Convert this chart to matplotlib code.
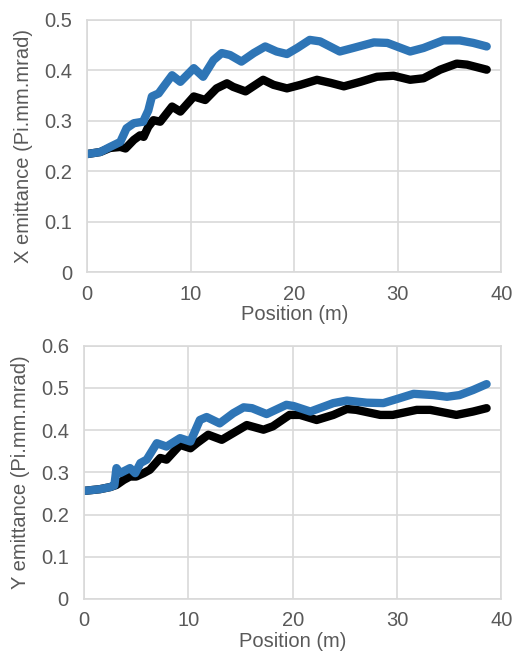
import matplotlib.pyplot as plt

# X emittance, top panel
x_blue_pos = [0, 1.26, 2.2, 3.2, 3.8, 4.5, 5.4, 5.9, 6.25, 6.9, 7.4, 8.2, 9.0, 10.3, 11.2,
              12.2, 13.0, 13.8, 14.9, 16.1, 17.2, 18.3, 19.3, 20.3, 21.5, 22.5, 24.4, 25.7,
              27.7, 29.0, 31.2, 32.5, 34.4, 36.0, 37.3, 38.6]
x_blue_emit = [0.234, 0.238, 0.248, 0.258, 0.285, 0.295, 0.298, 0.32, 0.348, 0.354, 0.368,
               0.39, 0.377, 0.404, 0.387, 0.42, 0.434, 0.43, 0.417, 0.434, 0.447, 0.437,
               0.432, 0.444, 0.46, 0.457, 0.437, 0.444, 0.455, 0.454, 0.437, 0.444, 0.459,
               0.459, 0.454, 0.447]
x_black_pos = [0, 1.26, 2.2, 3.2, 3.7, 4.5, 5.1, 5.45, 5.9, 6.4, 7.05, 8.2, 9.0, 10.3, 11.4,
               12.5, 13.5, 14.1, 15.3, 17.0, 18.0, 19.3, 20.6, 22.2, 23.5, 24.8, 26.4, 28.0,
               29.6, 31.2, 32.5, 34.1, 35.7, 36.7, 38.6]
x_black_emit = [0.234, 0.238, 0.246, 0.248, 0.245, 0.262, 0.271, 0.268, 0.288, 0.301, 0.298,
                0.328, 0.318, 0.348, 0.341, 0.364, 0.374, 0.367, 0.358, 0.381, 0.371, 0.364,
                0.371, 0.381, 0.375, 0.368, 0.377, 0.387, 0.389, 0.381, 0.384, 0.401, 0.413,
                0.411, 0.401]

# Y emittance, bottom panel
y_blue_pos = [0, 1.5, 2.5, 2.9, 3.1, 3.45, 4.4, 4.9, 5.4, 6.0, 6.97, 7.9, 9.2, 10.2, 11.1,
              11.75, 13.0, 14.3, 15.3, 16.1, 17.5, 19.4, 20.1, 21.7, 23.9, 25.2, 27.1, 28.7,
              30.3, 31.6, 33.5, 34.8, 36.0, 37.3, 38.6]
y_blue_emit = [0.256, 0.26, 0.265, 0.269, 0.31, 0.298, 0.31, 0.298, 0.322, 0.33, 0.369,
               0.361, 0.381, 0.373, 0.424, 0.431, 0.416, 0.44, 0.454, 0.452, 0.438, 0.46,
               0.457, 0.444, 0.464, 0.47, 0.465, 0.464, 0.476, 0.486, 0.483, 0.479, 0.483,
               0.495, 0.509]
y_black_pos = [0, 1.5, 2.5, 3.1, 3.8, 4.4, 5.0, 5.7, 6.3, 7.3, 7.9, 9.2, 10.2, 10.8, 11.9,
               13.2, 14.3, 15.6, 17.2, 18.1, 19.7, 20.7, 22.3, 23.9, 25.2, 26.1, 28.4, 29.6,
               31.9, 33.2, 35.7, 37.3, 38.6]
y_black_emit = [0.256, 0.26, 0.265, 0.27, 0.282, 0.29, 0.29, 0.298, 0.306, 0.334, 0.33,
                0.365, 0.357, 0.369, 0.389, 0.377, 0.393, 0.412, 0.401, 0.409, 0.436, 0.436,
                0.424, 0.436, 0.45, 0.448, 0.436, 0.436, 0.448, 0.448, 0.436, 0.444, 0.452]

plt.rcParams['font.family'] = ['Liberation Sans', 'DejaVu Sans']

BLUE = '#2E75B6'
GRID = '#D9D9D9'
TEXT = '#595959'


def style_axis(ax, ymax, ylabel):
    ax.set_xlim(0, 40)
    ax.set_ylim(0, ymax)
    ax.set_xticks(range(0, 41, 10))
    n = int(round(ymax * 10))
    ax.set_yticks([round(v * 0.1, 1) for v in range(n + 1)])
    ax.set_yticklabels(['0'] + [f'{v * 0.1:.1f}' for v in range(1, n + 1)])
    ax.grid(color=GRID, linewidth=1.2)
    ax.set_axisbelow(True)
    for s in ax.spines.values():
        s.set_color(GRID)
        s.set_linewidth(1.2)
    ax.tick_params(axis='x', length=0, labelsize=14.5, colors=TEXT, pad=9)
    ax.tick_params(axis='y', length=0, labelsize=14.5, colors=TEXT, pad=11)
    ax.set_xlabel('Position (m)', fontsize=14.5, color=TEXT, labelpad=1)
    ax.set_ylabel(ylabel, fontsize=14.5, color=TEXT, labelpad=8)


fig = plt.figure(figsize=(5.13, 6.56), dpi=100)
ax1 = fig.add_axes([0.170, 0.585, 0.807, 0.385])
ax2 = fig.add_axes([0.164, 0.087, 0.813, 0.386])

ax1.plot(x_black_pos, x_black_emit, color='black', linewidth=6, solid_capstyle='round')
ax1.plot(x_blue_pos, x_blue_emit, color=BLUE, linewidth=6, solid_capstyle='round')
style_axis(ax1, 0.5, 'X emittance (Pi.mm.mrad)')

ax2.plot(y_black_pos, y_black_emit, color='black', linewidth=6, solid_capstyle='round')
ax2.plot(y_blue_pos, y_blue_emit, color=BLUE, linewidth=6, solid_capstyle='round')
style_axis(ax2, 0.6, 'Y emittance (Pi.mm.mrad)')

plt.savefig('out.png', dpi=100)
